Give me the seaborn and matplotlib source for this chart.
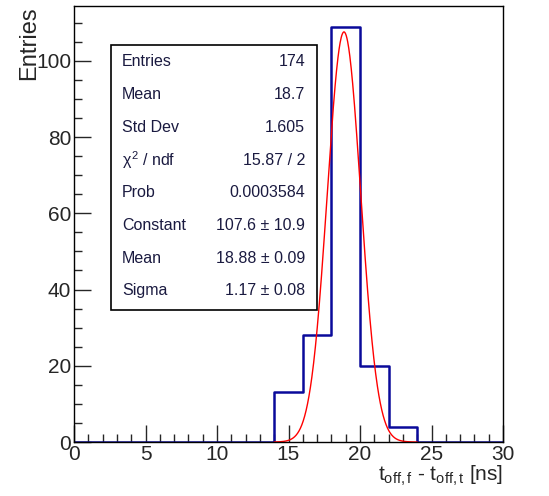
import numpy as np
import matplotlib
matplotlib.use("Agg")
import matplotlib.pyplot as plt
import seaborn as sns
from matplotlib.ticker import MultipleLocator

# histogram contents (bin centres, counts), bin width 2 ns
bin_edges = [0, 2, 4, 6, 8, 10, 12, 14, 16, 18, 20, 22, 24, 26, 28, 30]
bin_centers = [15, 17, 19, 21, 23]
counts = [13, 28, 109, 20, 4]

# gaussian fit parameters
fit_const = 107.6
fit_mean = 18.88
fit_sigma = 1.17
fit_range = [14, 24]

stat_labels = ["Entries", "Mean", "Std Dev", r"$\chi^2$ / ndf", "Prob",
               "Constant", "Mean", "Sigma"]
stat_values = ["174", "18.7", "1.605", "15.87 / 2", "0.0003584",
               "107.6 \u00b1 10.9", "18.88 \u00b1 0.09", "1.17 \u00b1 0.08"]

sns.set_style("ticks")
plt.rcParams['font.family'] = ['Liberation Sans', 'DejaVu Sans']
plt.rcParams['mathtext.fontset'] = 'custom'
plt.rcParams['mathtext.rm'] = 'Liberation Sans'
plt.rcParams['mathtext.it'] = 'Liberation Sans'

fig = plt.figure(figsize=(5.49, 4.96), dpi=100)
ax = fig.add_axes([74 / 549, 1 - 442 / 496, (503 - 74) / 549, (442 - 6) / 496])

sns.histplot(x=bin_centers, weights=counts, bins=bin_edges, element="step",
             fill=False, color="#0a0a9a", linewidth=1.8, ax=ax)

xf = np.linspace(fit_range[0], fit_range[1], 400)
yf = fit_const * np.exp(-0.5 * ((xf - fit_mean) / fit_sigma) ** 2)
ax.plot(xf, yf, color="red", linewidth=1.0)

ax.set_xlim(0, 30)
ax.set_ylim(0, 114.4)
ax.xaxis.set_major_locator(MultipleLocator(5))
ax.xaxis.set_minor_locator(MultipleLocator(1))
ax.yaxis.set_major_locator(MultipleLocator(20))
ax.yaxis.set_minor_locator(MultipleLocator(5))
ax.tick_params(which="major", direction="in", length=12, width=1, labelsize=15, pad=2)
ax.tick_params(which="minor", direction="in", length=6, width=1)
for s in ax.spines.values():
    s.set_linewidth(1.0)
    s.set_color("black")

ax.set_xlabel(r"t$_{\rm off,f}$ - t$_{\rm off,t}$ [ns]", fontsize=15, loc="right", labelpad=0)
ax.set_ylabel("Entries", fontsize=17, loc="top")
ax.yaxis.set_label_coords(-0.08, 1.0)

# stats box
box = plt.Rectangle((111 / 549, 1 - 310 / 496), (317 - 111) / 549, (310 - 45) / 496,
                    transform=fig.transFigure, fill=True, facecolor="white",
                    edgecolor="black", linewidth=1.2, zorder=5)
fig.patches.append(box)
for i, (lab, val) in enumerate(zip(stat_labels, stat_values)):
    y = 1 - (62 + i * 32.7) / 496
    fig.text(122 / 549, y, lab, fontsize=11.5, va="center", ha="left", color="#1a1a40", zorder=6)
    fig.text(305 / 549, y, val, fontsize=11.5, va="center", ha="right", color="#1a1a40", zorder=6)

fig.savefig("out.png", dpi=100)
